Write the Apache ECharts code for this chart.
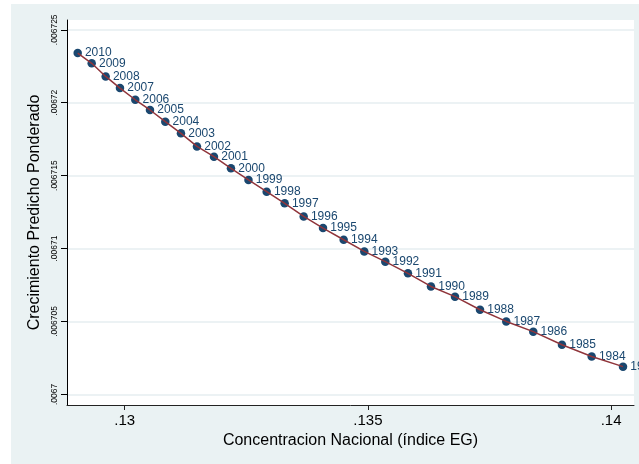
<!DOCTYPE html>
<html>
<head>
<meta charset="utf-8">
<script src="https://cdn.jsdelivr.net/npm/echarts@6/dist/echarts.min.js"></script>
<style>
body{margin:0;background:#fff;}
#bg{position:absolute;left:11px;top:4px;width:628px;height:460px;background:#eaf2f3;}
#main{position:absolute;left:0;top:0;width:639px;height:464px;}
</style>
</head>
<body>
<div id="bg"></div>
<div id="main"></div>
<script>
// años y valores
var years = [2010,2009,2008,2007,2006,2005,2004,2003,2002,2001,2000,1999,1998,1997,1996,1995,1994,1993,1992,1991,1990,1989,1988,1987,1986,1985,1984,1983];
var indiceEG = [0.129034,0.129322,0.129609,0.129903,0.130218,0.130520,0.130835,0.131157,0.131486,0.131836,0.132185,0.132545,0.132919,0.133289,0.133680,0.134077,0.134502,0.134926,0.135358,0.135824,0.136297,0.136791,0.137305,0.137845,0.138400,0.138990,0.139601,0.140245];
var crecimiento = [0.0067234,0.0067227,0.0067218,0.0067210,0.0067202,0.0067195,0.0067187,0.0067179,0.0067170,0.0067163,0.0067155,0.0067147,0.0067139,0.0067131,0.0067122,0.0067114,0.0067106,0.0067098,0.0067091,0.0067083,0.0067074,0.0067067,0.0067058,0.0067050,0.0067043,0.0067034,0.0067026,0.0067019];
var xTicks = [0.13,0.135,0.14];
var yTicks = [0.0067,0.006705,0.00671,0.006715,0.00672,0.006725];

function fmt(v){
	return String(+v.toFixed(6)).replace(/^0/,'')
}

var puntos = []
for(var i=0;i<years.length;i++){
	puntos.push([indiceEG[i],crecimiento[i],years[i]])
}

var font = 'Liberation Sans'
var option = {
	animation:false,
	textStyle:{fontFamily:font},
	grid:{left:67,right:5,top:20,bottom:59,show:true,backgroundColor:'#fff',borderWidth:0},
	xAxis:{
		type:'value',min:0.128814,max:0.140471,
		name:'Concentracion Nacional (índice EG)',nameLocation:'middle',nameGap:27,
		nameTextStyle:{fontSize:16,color:'#000',fontFamily:font},
		axisLine:{lineStyle:{color:'#222',width:1}},
		axisTick:{customValues:xTicks,length:5,lineStyle:{color:'#222'}},
		axisLabel:{customValues:xTicks,formatter:fmt,fontSize:15,color:'#000',margin:8,fontFamily:font},
		splitLine:{show:false}
	},
	yAxis:{
		type:'value',min:0.00669927,max:0.00672567,
		name:'Crecimiento Predicho Ponderado',nameLocation:'middle',nameGap:22,
		nameTextStyle:{fontSize:16,color:'#000',fontFamily:font},
		axisLine:{show:true,lineStyle:{color:'#000',width:1}},
		axisTick:{show:true,customValues:yTicks,length:6,lineStyle:{color:'#000'}},
		axisLabel:{customValues:yTicks,formatter:fmt,fontSize:8.5,color:'#000',rotate:90,margin:8,fontFamily:font},
		splitLine:{show:true,lineStyle:{color:'#e6eef0',width:1.5}}
	},
	series:[
		{
			type:'scatter',data:puntos,symbolSize:8.5,
			itemStyle:{color:'#1a476f',opacity:1},
			label:{show:true,position:'right',distance:3,color:'#1a476f',fontSize:12,fontFamily:font,
				formatter:function(p){return p.data[2]}}
		},
		{
			type:'line',data:puntos,symbol:'none',
			lineStyle:{color:'#90353b',width:1.5}
		}
	]
}
var myChart = echarts.init(document.getElementById('main'));
myChart.setOption(option);
</script>
</body>
</html>
